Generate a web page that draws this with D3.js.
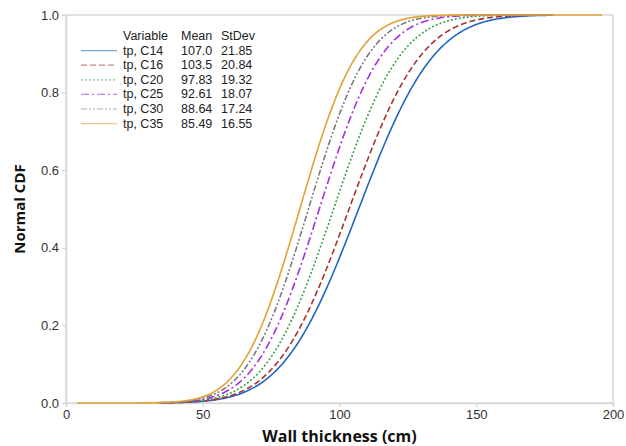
<!DOCTYPE html>
<html>
<head>
<meta charset="utf-8">
<script src="https://cdn.jsdelivr.net/npm/d3@7"></script>
<style>
  html, body { margin: 0; padding: 0; background: #fff; }
  svg { display: block; font-family: "Open Sans", "DejaVu Sans", sans-serif; }
</style>
</head>
<body>
<svg id="chart" width="626" height="446"></svg>
<script>
// Fitted normal distributions of wall thickness per variable
const variables = ["tp, C14", "tp, C16", "tp, C20", "tp, C25", "tp, C30", "tp, C35"];
const means     = [107.0, 103.5, 97.83, 92.61, 88.64, 85.49];
const stdevs    = [21.85, 20.84, 19.32, 18.07, 17.24, 16.55];
// Span of the observed data for each variable (curve extent)
const dataMin   = [34, 34, 34, 34, 34, 4];
const dataMax   = [178, 178, 178, 178, 178, 196];

const xTicks = [0, 50, 100, 150, 200];
const yTicks = [0.0, 0.2, 0.4, 0.6, 0.8, 1.0];

const colors = ["#2166c4", "#a83232", "#34a04a", "#a52ee0", "#7a7a7a", "#e2a236"];
const dashes = [null, "6,3", "2,2", "8,3,2,3", "6,2,2,2,2,2", null];

const W = 626, H = 446;
const margin = { left: 66, right: 13, top: 15, bottom: 43 };

const svg = d3.select("#chart");

const x = d3.scaleLinear().domain([0, 200]).range([margin.left, W - margin.right]);
const y = d3.scaleLinear().domain([0, 1]).range([H - margin.bottom, margin.top]);

// Error function (Abramowitz & Stegun 7.1.26)
function erf(z) {
  const s = z < 0 ? -1 : 1;
  z = Math.abs(z);
  const t = 1 / (1 + 0.3275911 * z);
  const p = t * (0.254829592 + t * (-0.284496736 + t * (1.421413741 + t * (-1.453152027 + t * 1.061405429))));
  return s * (1 - p * Math.exp(-z * z));
}
const normCdf = (v, mu, sd) => 0.5 * (1 + erf((v - mu) / (sd * Math.SQRT2)));

// Plot frame
svg.append("rect")
  .attr("x", x(0)).attr("y", y(1))
  .attr("width", x(200) - x(0)).attr("height", y(0) - y(1))
  .attr("fill", "none").attr("stroke", "#d9d9d9").attr("stroke-width", 1.5);

// Axes
const xAxis = svg.append("g")
  .attr("transform", `translate(0,${y(0)})`)
  .call(d3.axisBottom(x).tickValues(xTicks).tickSize(4).tickPadding(3).tickFormat(d3.format("d")));
const yAxis = svg.append("g")
  .attr("transform", `translate(${x(0)},0)`)
  .call(d3.axisLeft(y).tickValues(yTicks).tickSize(4).tickPadding(3).tickFormat(d3.format(".1f")));

[xAxis, yAxis].forEach(g => {
  g.select(".domain").attr("stroke", "#d9d9d9").attr("stroke-width", 1.5);
  g.selectAll(".tick line").attr("stroke", "#d0d0d0");
  g.selectAll(".tick text").attr("fill", "#333").style("font-size", "13px");
});

// Axis titles
svg.append("text")
  .attr("x", (x(0) + x(200)) / 2).attr("y", 442)
  .attr("text-anchor", "middle")
  .style("font-size", "16px").style("font-weight", "bold").attr("fill", "#111")
  .text("Wall thickness (cm)");
svg.append("text")
  .attr("transform", `translate(25,${(y(0) + y(1)) / 2}) rotate(-90)`)
  .attr("text-anchor", "middle")
  .style("font-size", "15px").style("font-weight", "bold").attr("fill", "#111")
  .text("Normal CDF");

// CDF curves
const line = d3.line().x(d => x(d[0])).y(d => y(d[1]));
const plot = svg.append("g");
variables.forEach((name, i) => {
  const pts = d3.range(dataMin[i], dataMax[i] + 0.001, 0.5).map(v => [v, normCdf(v, means[i], stdevs[i])]);
  plot.append("path")
    .datum(pts)
    .attr("d", line)
    .attr("fill", "none")
    .attr("stroke", colors[i])
    .attr("stroke-width", 1.6)
    .attr("stroke-dasharray", dashes[i]);
});

// Legend table
const legend = svg.append("g")
  .style("font-family", "'Liberation Sans', Arial, sans-serif")
  .style("font-size", "12.5px").attr("fill", "#222");
const colVar = 123, colMean = 181, colSd = 221, rowTop = 40, rowStep = 14.6;
legend.append("text").attr("x", colVar).attr("y", rowTop).text("Variable");
legend.append("text").attr("x", colMean).attr("y", rowTop).text("Mean");
legend.append("text").attr("x", colSd).attr("y", rowTop).text("StDev");
variables.forEach((name, i) => {
  const yy = rowTop + rowStep * (i + 1);
  legend.append("line")
    .attr("x1", 81).attr("x2", 117).attr("y1", yy - 4).attr("y2", yy - 4)
    .attr("stroke", colors[i]).attr("stroke-width", 1.2).attr("stroke-opacity", 0.6)
    .attr("stroke-dasharray", dashes[i]);
  legend.append("text").attr("x", colVar).attr("y", yy).text(name);
  legend.append("text").attr("x", colMean).attr("y", yy).text(means[i].toFixed(i < 2 ? 1 : 2));
  legend.append("text").attr("x", colSd).attr("y", yy).text(stdevs[i].toFixed(2));
});
</script>
</body>
</html>
